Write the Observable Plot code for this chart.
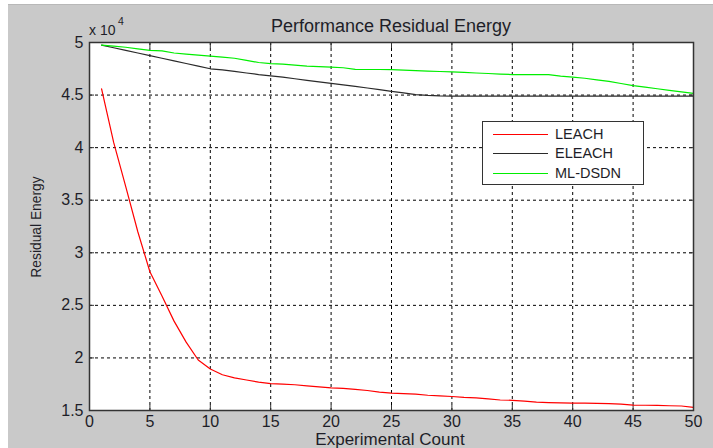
<!DOCTYPE html>
<html>
<head>
<meta charset="utf-8">
<script src="https://cdn.jsdelivr.net/npm/d3@7"></script>
<script src="https://cdn.jsdelivr.net/npm/@observablehq/plot@0.6"></script>
<style>
  html, body { margin: 0; padding: 0; background: #fff; }
  #wrap { position: relative; width: 713px; height: 448px; overflow: hidden; background: #fff;
          font-family: "Liberation Sans", Arial, Helvetica, sans-serif; color: #1e1e28; }
  #panel { position: absolute; left: 8px; top: 4px; right: 0; bottom: 0; background: #c9c9c9;
           border-top: 1px solid #b8b8b8; }
  #chart { position: absolute; left: 0; top: 0; }
  .txt { position: absolute; white-space: nowrap; line-height: 1; }
  #legend { position: absolute; left: 482px; top: 121px; width: 160px; height: 62px;
            background: #fff; border: 1.5px solid #333; }
  .row { position: absolute; left: 0; height: 18px; display: flex; align-items: center; }
  .row span.sw { display: inline-block; width: 55px; height: 0; margin-left: 10px; margin-right: 7px; }
  .row span.lb { font-size: 14.5px; line-height: 1; }
</style>
</head>
<body>
<div id="wrap">
  <div id="panel"></div>
  <div id="chart"></div>
  <div class="txt" id="title" style="left:391px; top:16.5px; font-size:18px; transform:translateX(-50%);"></div>
  <div class="txt" id="xlabel" style="left:390px; top:430.5px; font-size:17px; transform:translateX(-50%);"></div>
  <div class="txt" id="ylabel" style="left:35px; top:227px; font-size:15px; transform:translate(-50%,-50%) rotate(-90deg) scaleX(0.92);"></div>
  <div class="txt" style="left:89px; top:23px; font-size:14px;">x 10</div>
  <div class="txt" style="left:118px; top:16px; font-size:10.5px;">4</div>
  <div id="legend"></div>
</div>
<script>
// Experimental count (x) and residual energy values (in units of 10^4)
const counts = [1,2,3,4,5,6,7,8,9,10,11,12,13,14,15,16,17,18,19,20,21,22,23,24,25,
                26,27,28,29,30,31,32,33,34,35,36,37,38,39,40,41,42,43,44,45,46,47,48,49,50];

const leach = [4.56,4.05,3.63,3.20,2.82,2.59,2.35,2.15,1.98,1.895,1.84,1.81,1.79,1.77,1.755,
               1.75,1.745,1.735,1.725,1.715,1.71,1.70,1.69,1.675,1.665,1.66,1.655,1.645,1.64,1.633,
               1.625,1.62,1.61,1.60,1.597,1.59,1.58,1.575,1.572,1.571,1.57,1.568,1.565,1.56,1.552,
               1.55,1.548,1.545,1.543,1.53];

const eleach = [4.975,4.95,4.925,4.90,4.876,4.85,4.825,4.80,4.775,4.75,4.74,4.725,4.71,4.695,4.683,
                4.67,4.655,4.64,4.625,4.612,4.597,4.582,4.567,4.551,4.536,4.52,4.505,4.497,4.492,4.49,
                4.49,4.49,4.49,4.49,4.49,4.49,4.49,4.49,4.49,4.49,4.49,4.49,4.49,4.49,4.49,
                4.49,4.49,4.49,4.49,4.49];

const mldsdn = [4.975,4.965,4.955,4.94,4.925,4.92,4.90,4.89,4.88,4.87,4.86,4.85,4.83,4.81,4.80,
                4.795,4.785,4.775,4.77,4.765,4.76,4.745,4.743,4.743,4.742,4.738,4.733,4.728,4.724,4.72,
                4.715,4.71,4.705,4.70,4.695,4.695,4.695,4.694,4.68,4.67,4.66,4.645,4.63,4.61,4.59,
                4.575,4.56,4.545,4.53,4.517];

const seriesNames = ["LEACH", "ELEACH", "ML-DSDN"];
const seriesColors = ["#ff0000", "#2a2a2a", "#00ee00"];

const xTicks = [0,5,10,15,20,25,30,35,40,45,50];
const yTicks = [1.5,2,2.5,3,3.5,4,4.5,5];

const titleText = "Performance Residual Energy";
const xLabelText = "Experimental Count";
const yLabelText = "Residual Energy";

const table = [];
[leach, eleach, mldsdn].forEach((vals, si) => {
  vals.forEach((v, i) => table.push({series: seriesNames[si], x: counts[i], y: v}));
});

const innerX = xTicks.slice(1, -1);
const innerY = yTicks.slice(1, -1);
const gridStyle = {stroke: "#000", strokeOpacity: 1, strokeWidth: 1, strokeDasharray: "3,3"};
const tickStyle = {stroke: "#333", strokeWidth: 1, tickFormat: () => "", label: null};

const chart = Plot.plot({
  width: 713,
  height: 448,
  marginLeft: 89,
  marginRight: 20,
  marginTop: 42,
  marginBottom: 38,
  style: {background: "transparent", fontFamily: "'Liberation Sans', Arial, sans-serif", color: "#1e1e28"},
  x: {domain: [0, 50]},
  y: {domain: [1.5, 5]},
  color: {domain: seriesNames, range: seriesColors},
  marks: [
    Plot.frame({fill: "#fff", stroke: "none"}),
    Plot.gridX(innerX, gridStyle),
    Plot.gridY(innerY, gridStyle),
    Plot.axisX(xTicks, {anchor: "bottom", tickSize: -5, ...tickStyle}),
    Plot.axisX(xTicks, {anchor: "top", tickSize: -5, ...tickStyle}),
    Plot.axisY(yTicks, {anchor: "left", tickSize: -5, ...tickStyle}),
    Plot.axisY(yTicks, {anchor: "right", tickSize: -5, ...tickStyle}),
    Plot.line(table, {x: "x", y: "y", z: "series", stroke: "series", strokeWidth: 1.2}),
    Plot.frame({stroke: "#333", strokeWidth: 1.5}),
    Plot.axisX(xTicks, {anchor: "bottom", tickSize: 0, tickPadding: 5, fontSize: 16, label: null,
                        tickFormat: d => String(d)}),
    Plot.axisY(yTicks, {anchor: "left", tickSize: 0, tickPadding: 6, fontSize: 16, label: null,
                        tickFormat: d => String(d)})
  ]
});
document.getElementById("chart").appendChild(chart);

document.getElementById("title").textContent = titleText;
document.getElementById("xlabel").textContent = xLabelText;
document.getElementById("ylabel").textContent = yLabelText;

// Legend
const legend = document.getElementById("legend");
const rowTops = [3, 22.5, 42];
seriesNames.forEach((name, i) => {
  const row = document.createElement("div");
  row.className = "row";
  row.style.top = rowTops[i] + "px";
  const sw = document.createElement("span");
  sw.className = "sw";
  sw.style.borderTop = "1.5px solid " + seriesColors[i];
  const lb = document.createElement("span");
  lb.className = "lb";
  lb.textContent = name;
  row.appendChild(sw);
  row.appendChild(lb);
  legend.appendChild(row);
});
</script>
</body>
</html>
